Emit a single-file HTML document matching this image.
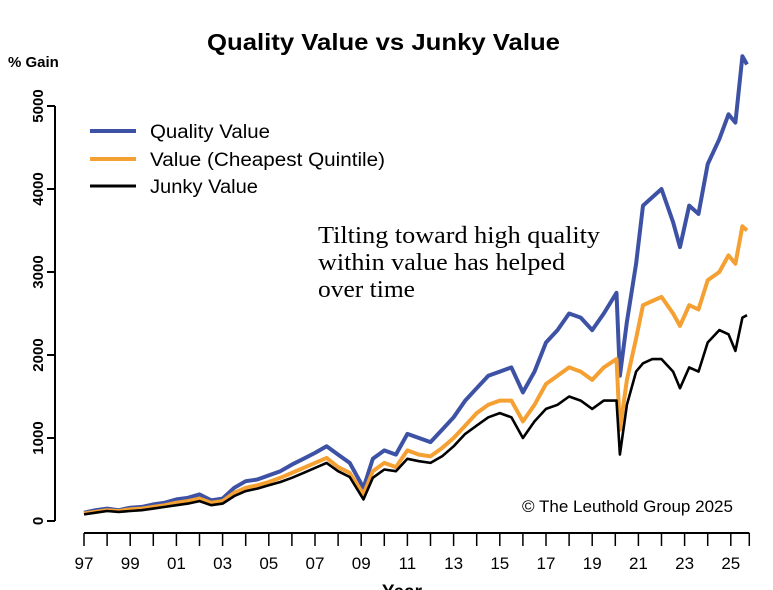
<!DOCTYPE html>
<html><head><meta charset="utf-8"><style>
body{margin:0;background:#fff;}
svg{display:block;font-family:"Liberation Sans",sans-serif;}
</style></head><body>
<svg id="chart" width="773" height="590" viewBox="0 0 773 590">
<text x="207" y="50" font-size="23" font-weight="bold" textLength="353" lengthAdjust="spacingAndGlyphs">Quality Value vs Junky Value</text>
<text x="8" y="67" font-size="15" font-weight="bold">% Gain</text>
<g id="axes"></g>
<g id="series"></g>
<g>
<line x1="90" y1="131" x2="136" y2="131" stroke="#3d52a5" stroke-width="4"/>
<text x="150" y="138" font-size="19" textLength="120" lengthAdjust="spacingAndGlyphs">Quality Value</text>
<line x1="90" y1="159" x2="136" y2="159" stroke="#f5a032" stroke-width="4"/>
<text x="150" y="166" font-size="19" textLength="235" lengthAdjust="spacingAndGlyphs">Value (Cheapest Quintile)</text>
<line x1="90" y1="186" x2="136" y2="186" stroke="#000" stroke-width="3"/>
<text x="150" y="193" font-size="19" textLength="108" lengthAdjust="spacingAndGlyphs">Junky Value</text>
</g>
<g font-family="'Liberation Serif',serif" font-size="24">
<text x="318" y="243" textLength="282" lengthAdjust="spacingAndGlyphs">Tilting toward high quality</text>
<text x="318" y="270" textLength="247" lengthAdjust="spacingAndGlyphs">within value has helped</text>
<text x="318" y="297" textLength="97" lengthAdjust="spacingAndGlyphs">over time</text>
</g>
<text x="522" y="512" font-size="17" textLength="211" lengthAdjust="spacingAndGlyphs">© The Leuthold Group 2025</text>
<text x="402" y="598" text-anchor="middle" font-size="19" font-weight="bold">Year</text>
</svg>
<script>
const years=[1997,1997.5,1998,1998.5,1999,1999.5,2000,2000.5,2001,2001.5,2002,2002.5,2003,2003.5,2004,2004.5,2005,2005.5,2006,2006.5,2007,2007.5,2008,2008.5,2009.1,2009.5,2010,2010.5,2011,2011.5,2012,2012.5,2013,2013.5,2014,2014.5,2015,2015.5,2016,2016.5,2017,2017.5,2018,2018.5,2019,2019.5,2020.05,2020.2,2020.5,2020.9,2021.2,2021.6,2022,2022.5,2022.8,2023.2,2023.6,2024,2024.5,2024.9,2025.2,2025.5,2025.7];
const qualityValue=[100,130,150,130,160,170,200,220,260,280,320,250,270,400,480,500,550,600,680,750,820,900,800,700,400,750,850,800,1050,1000,950,1100,1250,1450,1600,1750,1800,1850,1550,1800,2150,2300,2500,2450,2300,2500,2750,1750,2400,3100,3800,3900,4000,3600,3300,3800,3700,4300,4600,4900,4800,5600,5500];
const cheapValue=[90,110,130,120,140,150,170,190,220,240,270,220,240,340,400,430,470,520,580,640,700,760,650,580,320,600,700,650,850,800,780,880,1000,1150,1300,1400,1450,1450,1200,1400,1650,1750,1850,1800,1700,1850,1950,1100,1700,2200,2600,2650,2700,2500,2350,2600,2550,2900,3000,3200,3100,3550,3500];
const junkyValue=[80,100,120,110,120,130,150,170,190,210,240,190,210,300,360,390,430,470,520,580,640,700,600,530,260,520,620,600,750,720,700,780,900,1050,1150,1250,1300,1250,1000,1200,1350,1400,1500,1450,1350,1450,1450,800,1400,1800,1900,1950,1950,1800,1600,1850,1800,2150,2300,2250,2050,2450,2480];
const yTicks=[0,1000,2000,3000,4000,5000];
const xTickYears=[1997,1998,1999,2000,2001,2002,2003,2004,2005,2006,2007,2008,2009,2010,2011,2012,2013,2014,2015,2016,2017,2018,2019,2020,2021,2022,2023,2024,2025];
const xLabels=["97","99","01","03","05","07","09","11","13","15","17","19","21","23","25"];

const NS="http://www.w3.org/2000/svg";
const x=v=>84+(v-1997)*23.1;
const y=v=>521-v*0.0830;
const axes=document.getElementById('axes'), series=document.getElementById('series');
function mk(tag,attrs,parent){const e=document.createElementNS(NS,tag);for(const k in attrs)e.setAttribute(k,attrs[k]);parent.appendChild(e);return e;}
let yl=mk('line',{x1:55,x2:55,y1:y(5000),y2:y(0),stroke:'#000','stroke-width':2},axes);


yTicks.forEach(t=>{
  const l=mk('line',{x1:47,x2:55,y1:y(t),y2:y(t),stroke:'#000','stroke-width':2},axes);
  
  
  const tx=mk('text',{x:0,y:0,'font-size':15,'font-weight':'bold','text-anchor':'middle',transform:`translate(43,${y(t)}) rotate(-90)`},axes);
  
  
  tx.textContent=t;
});
let xl=mk('line',{x1:x(1997),x2:x(2025.8),y1:533,y2:533,stroke:'#000','stroke-width':2},axes);


xTickYears.forEach(t=>{
  const l=mk('line',{x1:x(t),x2:x(t),y1:533,y2:546,stroke:'#000','stroke-width':1.5},axes);
  
  
});
let endT=mk('line',{x1:x(2025.8),x2:x(2025.8),y1:533,y2:546,stroke:'#000','stroke-width':1.5},axes);


xLabels.forEach((s,i)=>{
  const t=mk('text',{x:x(1997+2*i),y:569,'font-size':17,'text-anchor':'middle'},axes);
  
  
  t.textContent=s;
});
function line(data,color,w,name){
  const d=data.map((v,i)=>(i?'L':'M')+x(years[i]).toFixed(1)+','+y(v).toFixed(1)).join('');
  const p=mk('path',{d:d,fill:'none',stroke:color,'stroke-width':w,'stroke-linejoin':'round'},series);
  
  
}
line(qualityValue,'#3d52a5',4,'quality-value-line');
line(cheapValue,'#f5a032',4,'cheap-value-line');
line(junkyValue,'#000',2.6,'junky-value-line');
</script>
</body></html>
